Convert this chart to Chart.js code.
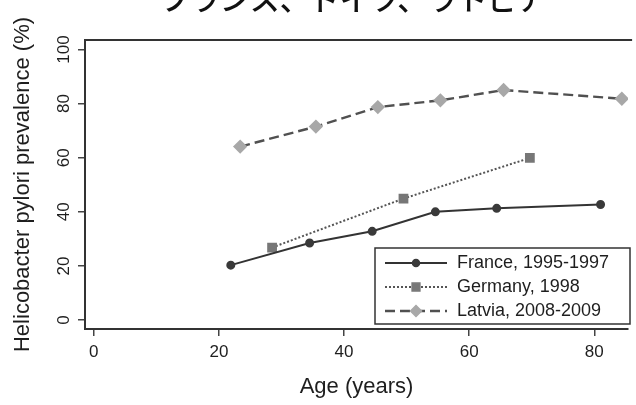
<!DOCTYPE html>
<html><head><meta charset="utf-8">
<script src="https://cdn.jsdelivr.net/npm/chart.js@4/dist/chart.umd.min.js"></script>
<style>html,body{margin:0;padding:0;background:#fff;}#wrap{position:relative;width:636px;height:405px;overflow:hidden}</style>
</head><body><div id="wrap"><canvas id="c" width="636" height="405"></canvas></div>
<script>
const chartTitle = 'フランス、ドイツ、ラトビア';
const xAxisTitle = 'Age (years)';
const yAxisTitle = 'Helicobacter pylori prevalence (%)';
const seriesNames = ['France, 1995-1997', 'Germany, 1998', 'Latvia, 2008-2009'];
const franceAges = [21.9, 34.5, 44.5, 54.6, 64.4, 81.0];
const franceValues = [20.3, 28.5, 32.8, 40.0, 41.3, 42.7];
const germanyAges = [28.5, 49.5, 69.7];
const germanyValues = [26.8, 44.9, 59.9];
const latviaAges = [23.4, 35.5, 45.4, 55.4, 65.5, 84.4];
const latviaValues = [64.1, 71.5, 78.7, 81.2, 85.0, 81.8];
const xTicks = [0, 20, 40, 60, 80];
const yTicks = [0, 20, 40, 60, 80, 100];

const pts = (xs, ys) => xs.map((x, i) => ({x: x, y: ys[i]}));
const FONT = '"Liberation Sans", Arial, sans-serif';
const INK = '#1e1e1e';

const framePlugin = {
  id: 'frame',
  afterDraw(chart) {
    const {ctx, chartArea: a} = chart;
    ctx.save();
    ctx.strokeStyle = '#333';
    ctx.lineWidth = 2;
    ctx.beginPath();
    ctx.moveTo(a.left, a.top);
    ctx.lineTo(a.right + 4, a.top);
    ctx.stroke();
    ctx.fillStyle = '#111';
    ctx.font = '500 30px "Noto Sans CJK JP"';
    ctx.textAlign = 'center';
    ctx.textBaseline = 'alphabetic';
    ctx.fillText(chartTitle, 353.5, 10);
    ctx.restore();
  }
};

const boxLegend = {
  id: 'boxLegend',
  afterDraw(chart) {
    const {ctx} = chart;
    const bx = 375, by = 248, bw = 255, bh = 76;
    ctx.save();
    ctx.fillStyle = '#fff';
    ctx.fillRect(bx, by, bw, bh);
    ctx.strokeStyle = '#333';
    ctx.lineWidth = 1.5;
    ctx.strokeRect(bx, by, bw, bh);
    chart.data.datasets.forEach((ds, i) => {
      const y = 263 + i * 24;
      ctx.save();
      ctx.strokeStyle = ds.borderColor;
      ctx.lineWidth = ds.borderWidth;
      ctx.setLineDash(ds.borderDash || []);
      ctx.beginPath();
      ctx.moveTo(385, y);
      ctx.lineTo(447, y);
      ctx.stroke();
      ctx.restore();
      ctx.fillStyle = ds.pointBackgroundColor;
      ctx.strokeStyle = ds.pointBorderColor;
      Chart.helpers.drawPoint(ctx, {pointStyle: ds.pointStyle, radius: ds.pointRadius, rotation: 0, borderWidth: 1}, 416, y);
      ctx.fillStyle = INK;
      ctx.font = '18px ' + FONT;
      ctx.textAlign = 'left';
      ctx.textBaseline = 'middle';
      ctx.fillText(ds.label, 457, y);
    });
    ctx.restore();
  }
};

new Chart(document.getElementById('c'), {
  type: 'line',
  data: {
    datasets: [
      {label: seriesNames[0], data: pts(franceAges, franceValues), borderColor: '#333', borderWidth: 2,
       pointStyle: 'circle', pointRadius: 3.5, pointBackgroundColor: '#3a3a3a', pointBorderColor: '#3a3a3a'},
      {label: seriesNames[1], data: pts(germanyAges, germanyValues), borderColor: '#555', borderWidth: 2, borderDash: [2, 2],
       pointStyle: 'rect', pointRadius: 5.5, pointBackgroundColor: '#777', pointBorderColor: '#777'},
      {label: seriesNames[2], data: pts(latviaAges, latviaValues), borderColor: '#505050', borderWidth: 2.4, borderDash: [10, 5],
       pointStyle: 'rectRot', pointRadius: 5.5, pointBackgroundColor: '#a8a8a8', pointBorderColor: '#a8a8a8'}
    ]
  },
  options: {
    responsive: false,
    animation: false,
    layout: {padding: {top: 40, right: 0, left: 0, bottom: 0}},
    plugins: {legend: {display: false}, tooltip: {enabled: false}},
    scales: {
      x: {
        type: 'linear', min: -1.4, max: 85.4,
        afterBuildTicks: s => { s.ticks = xTicks.map(v => ({value: v})); },
        afterFit: s => { s.height = 76; },
        grid: {display: true, drawOnChartArea: false, drawTicks: true, tickLength: 7, color: '#444', lineWidth: 1.5},
        border: {display: true, color: '#333', width: 2},
        ticks: {color: INK, font: {family: FONT, size: 17}, padding: 6, maxRotation: 0},
        title: {display: true, text: xAxisTitle, color: INK, font: {family: FONT, size: 22}, padding: {top: 0, bottom: 5}}
      },
      y: {
        type: 'linear', min: -3.3, max: 103.5,
        afterBuildTicks: s => { s.ticks = yTicks.map(v => ({value: v})); },
        afterFit: s => { s.width = 85; },
        grid: {display: true, drawOnChartArea: false, drawTicks: true, tickLength: 7, color: '#444', lineWidth: 1.5},
        border: {display: true, color: '#333', width: 2},
        ticks: {color: INK, font: {family: FONT, size: 17}, padding: 0, minRotation: 90, maxRotation: 90, crossAlign: 'center'},
        title: {display: true, text: yAxisTitle, color: INK, font: {family: FONT, size: 22}, padding: {top: 10, bottom: 0}}
      }
    }
  },
  plugins: [framePlugin, boxLegend]
});
</script></body></html>
